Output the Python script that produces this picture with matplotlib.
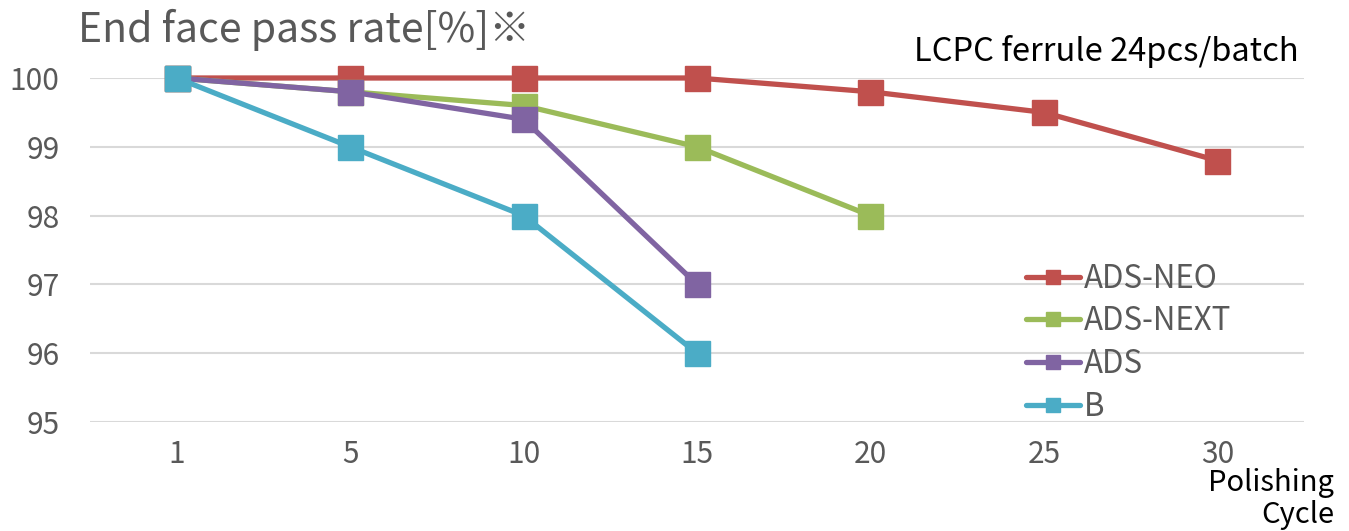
import matplotlib
matplotlib.use("Agg")
import matplotlib.pyplot as plt
from matplotlib.ticker import FixedLocator

plt.rcParams['font.family'] = ['Noto Sans CJK JP', 'DejaVu Sans']

cycles = ["1", "5", "10", "15", "20", "25", "30"]
ads_neo = [100, 100, 100, 100, 99.8, 99.5, 98.8]
ads_next = [100, 99.8, 99.6, 99.0, 98.0]
ads = [100, 99.8, 99.4, 97.0]
b_series = [100, 99.0, 98.0, 96.0]

series = [
    ("ADS-NEO", ads_neo, "#C0504D"),
    ("ADS-NEXT", ads_next, "#9BBB59"),
    ("ADS", ads, "#8064A2"),
    ("B", b_series, "#4BACC6"),
]

W, H = 1349, 531
fig = plt.figure(figsize=(W / 100, H / 100), dpi=100)
ax = fig.add_axes([90 / W, (H - 422) / H, (1304 - 90) / W, (422 - 78) / H])

for name, vals, col in series:
    ax.plot(range(len(vals)), vals, color=col, lw=3.8, marker='s', ms=18,
            mec=col, mfc=col, label=name, clip_on=False, solid_capstyle='round')

ax.set_xlim(-0.5, len(cycles) - 0.5)
ax.set_ylim(95, 100)
ax.set_xticks(range(len(cycles)))
ax.set_xticklabels(cycles)
ax.yaxis.set_major_locator(FixedLocator([95, 96, 97, 98, 99, 100]))
ax.grid(axis='y', color='#D9D9D9', lw=1.5)
ax.set_axisbelow(True)
for s in ax.spines.values():
    s.set_visible(False)
ax.tick_params(axis='both', length=0, colors='#595959', labelsize=21.5)
ax.tick_params(axis='y', pad=22)
ax.tick_params(axis='x', pad=12)

fig.text(78 / W, 1 - 30 / H, "End face pass rate[%]※", fontsize=29.5, color='#595959',
         ha='left', va='center')
t = fig.text(1299 / W, 1 - 51 / H, "LCPC ferrule 24pcs/batch", fontsize=21, color='#000000',
             ha='right', va='center')
fig.text(1334 / W, 1 - 499 / H, "Polishing\nCycle", fontsize=21, color='#000000',
         ha='right', va='center', linespacing=1.05)

leg = ax.legend(loc='upper left', bbox_to_anchor=(1010 / W, 1 - 247 / H),
                bbox_transform=fig.transFigure, frameon=False, fontsize=22.5,
                handlelength=1.75, handletextpad=0.1, labelspacing=0.34,
                markerscale=0.55, borderpad=0)
for tx in leg.get_texts():
    tx.set_color('#595959')

# widen the subtitle slightly to match the reference's wider face
fig.canvas.draw()
bb = t.get_window_extent()
target = 1299 - 912
if bb.width > 0:
    t.set_fontsize(21 * min(target / bb.width, 1.12))

fig.savefig("out.png", dpi=100)
